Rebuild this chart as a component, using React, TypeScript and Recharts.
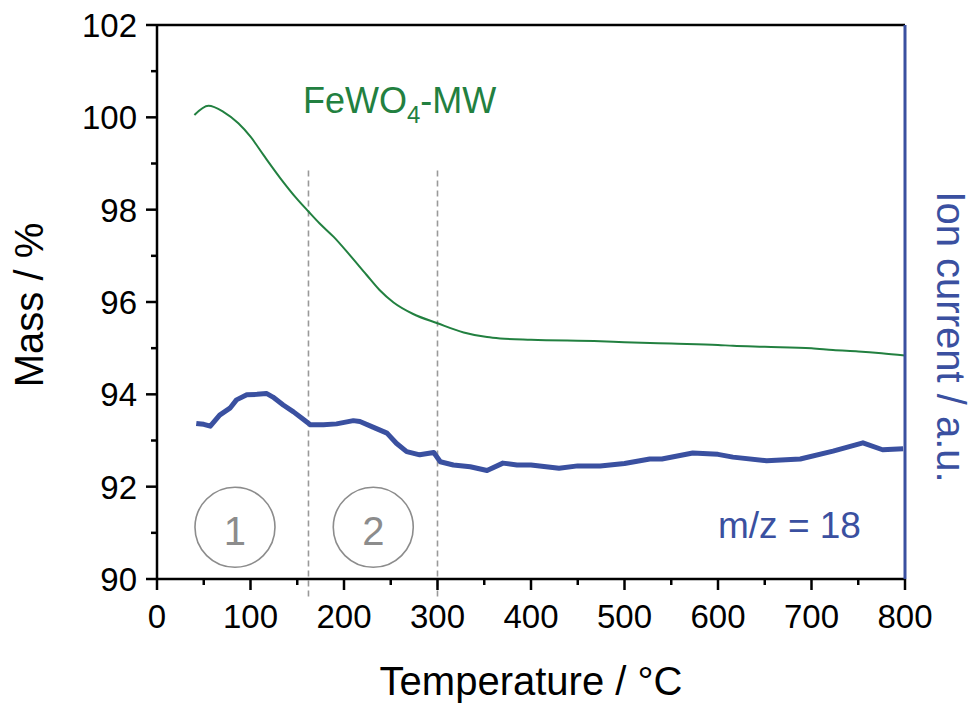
import React from 'react';
import { ComposedChart, Line, XAxis, YAxis, ReferenceLine, ReferenceDot, Customized } from 'recharts';

const massTemps = [40, 55, 71, 87, 100, 114, 132, 149, 162, 174, 189, 206, 224, 238, 253, 274, 300, 328, 353, 367, 400, 474, 500, 550, 600, 616, 650, 700, 723, 750, 775, 800];
const massValues = [100.05, 100.25, 100.12, 99.87, 99.58, 99.18, 98.68, 98.25, 97.96, 97.7, 97.41, 97.02, 96.59, 96.26, 95.99, 95.74, 95.54, 95.34, 95.24, 95.21, 95.18, 95.15, 95.13, 95.1, 95.07, 95.05, 95.03, 95.0, 94.96, 94.93, 94.89, 94.84];

const ionTemps = [42, 50, 57, 67, 78, 85, 96, 107, 117, 124, 135, 146, 155, 164, 178, 192, 210, 217, 231, 246, 256, 267, 281, 296, 303, 317, 335, 353, 370, 385, 400, 430, 450, 474, 500, 527, 540, 573, 600, 616, 652, 688, 723, 755, 776, 798];
const ionValues = [3.37, 3.35, 3.31, 3.55, 3.7, 3.88, 3.99, 4.0, 4.02, 3.94, 3.77, 3.62, 3.48, 3.34, 3.34, 3.36, 3.43, 3.41, 3.29, 3.16, 2.94, 2.76, 2.69, 2.74, 2.54, 2.47, 2.43, 2.35, 2.51, 2.47, 2.47, 2.4, 2.45, 2.45, 2.5, 2.6, 2.6, 2.73, 2.7, 2.64, 2.56, 2.6, 2.77, 2.95, 2.8, 2.82];

const xTicks = [0, 50, 100, 150, 200, 250, 300, 350, 400, 450, 500, 550, 600, 650, 700, 750, 800];
const xLabelTicks = [0, 100, 200, 300, 400, 500, 600, 700, 800];
const yTicks = [90, 91, 92, 93, 94, 95, 96, 97, 98, 99, 100, 101, 102];
const yLabelTicks = [90, 92, 94, 96, 98, 100, 102];
const ionTicks = [0, 1, 2, 3, 4, 5, 6, 7, 8, 9, 10, 11, 12];
const stepLines = [162, 300];
const stepMarks = [
  { label: '1', t: 83.4, v: 91.12 },
  { label: '2', t: 231.3, v: 91.12 },
];

const massData = massTemps.map((t, i) => ({ t, v: massValues[i] }));
const ionData = ionTemps.map((t, i) => ({ t, v: ionValues[i] }));

const FONT = '"Liberation Sans", Arial, sans-serif';
const GREEN = '#228040';
const BLUE = '#3a50a0';
const GRAY = '#8c8c8c';

const BottomTick = (props: any) => {
  const { x, y, payload } = props;
  const major = xLabelTicks.includes(payload.value);
  return (
    <g>
      <line x1={x} x2={x} y1={y} y2={y + (major ? 11 : 6)} stroke="#000" strokeWidth={2.5} />
      {major && (
        <text x={x} y={y + 49} textAnchor="middle" fontSize={33} fontFamily={FONT} fill="#000">
          {payload.value}
        </text>
      )}
    </g>
  );
};

const LeftTick = (props: any) => {
  const { x, y, payload } = props;
  const major = yLabelTicks.includes(payload.value);
  return (
    <g>
      <line x1={x - (major ? 11 : 6)} x2={x} y1={y} y2={y} stroke="#000" strokeWidth={2.5} />
      {major && (
        <text x={x - 20} y={y + 12} textAnchor="end" fontSize={33} fontFamily={FONT} fill="#000">
          {payload.value}
        </text>
      )}
    </g>
  );
};

const Texts = () => (
  <g fontFamily={FONT}>
    <text x={303} y={113} fontSize={36} fill={GREEN}>
      FeWO
      <tspan fontSize={24} dy={10}>4</tspan>
      <tspan fontSize={36} dy={-10}>-MW</tspan>
    </text>
    <text x={718} y={538} fontSize={37} fill={BLUE}>m/z = 18</text>
    <text x={531} y={695} fontSize={40} textAnchor="middle" fill="#000">Temperature / °C</text>
    <text transform="translate(43,305) rotate(-90)" fontSize={40} textAnchor="middle" fill="#000">Mass / %</text>
    <text transform="translate(937,337) rotate(90)" fontSize={40} textAnchor="middle" fill={BLUE}>Ion current / a.u.</text>
  </g>
);

export default function App() {
  return (
    <div style={{ position: 'absolute', left: 0, top: 0, background: '#fff' }}>
      <ComposedChart width={972} height={704} margin={{ top: 25, right: 57, bottom: 65, left: 57 }}>
        <XAxis
          xAxisId="b"
          type="number"
          dataKey="t"
          domain={[0, 800]}
          ticks={xTicks}
          interval={0}
          allowDataOverflow
          tick={<BottomTick />}
          tickLine={false}
          tickSize={0}
          tickMargin={0}
          height={60}
          axisLine={{ stroke: '#000', strokeWidth: 2.5 }}
        />
        <XAxis
          xAxisId="t"
          type="number"
          orientation="top"
          mirror
          domain={[0, 800]}
          ticks={xTicks}
          interval={0}
          tick={false}
          tickSize={8}
          tickLine={{ stroke: '#000', strokeWidth: 2.5 }}
          axisLine={{ stroke: '#000', strokeWidth: 2.5 }}
        />
        <YAxis
          yAxisId="m"
          type="number"
          domain={[90, 102]}
          ticks={yTicks}
          interval={0}
          allowDataOverflow
          tick={<LeftTick />}
          tickLine={false}
          tickSize={0}
          tickMargin={0}
          width={100}
          axisLine={{ stroke: '#000', strokeWidth: 2.5 }}
        />
        <YAxis
          yAxisId="ion"
          orientation="right"
          type="number"
          domain={[0, 12]}
          ticks={ionTicks}
          interval={0}
          tick={false}
          tickSize={3}
          width={10}
          tickLine={{ stroke: '#333', strokeWidth: 1 }}
          axisLine={{ stroke: BLUE, strokeWidth: 3 }}
        />
        {stepLines.map((t) => (
          <ReferenceLine
            key={t}
            xAxisId="b"
            yAxisId="m"
            ifOverflow="visible"
            segment={[{ x: t, y: 98.85 }, { x: t, y: 89.62 }]}
            stroke="#999"
            strokeWidth={1.6}
            strokeDasharray="6 4"
          />
        ))}
        {stepMarks.map((m) => (
          <ReferenceDot
            key={m.label}
            xAxisId="b"
            yAxisId="m"
            x={m.t}
            y={m.v}
            r={40}
            fill="none"
            stroke={GRAY}
            strokeWidth={1.6}
            ifOverflow="visible"
            label={{ value: m.label, position: 'center', fill: GRAY, fontSize: 40, fontFamily: FONT, dy: 4 }}
          />
        ))}
        <Line
          xAxisId="b"
          yAxisId="ion"
          data={ionData}
          dataKey="v"
          type="linear"
          stroke={BLUE}
          strokeWidth={5}
          strokeLinejoin="round"
          dot={false}
          isAnimationActive={false}
        />
        <Line
          xAxisId="b"
          yAxisId="m"
          data={massData}
          dataKey="v"
          type="monotone"
          stroke={GREEN}
          strokeWidth={2}
          dot={false}
          isAnimationActive={false}
        />
        <Customized component={Texts} />
      </ComposedChart>
    </div>
  );
}
